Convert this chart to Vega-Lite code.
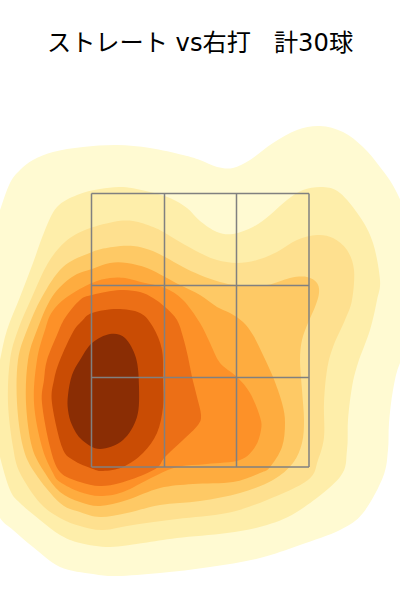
{"$schema":"https://vega.github.io/schema/vega-lite/v6.json","width":400,"height":600,"padding":0,"autosize":{"type":"fit","contains":"padding"},"background":"white","view":{"stroke":null},
"layer":[
{"data":{"values":[
{"level":1,"seq":0,"x":-2.2,"y":3.0},{"level":1,"seq":1,"x":-2.1,"y":3.6},{"level":1,"seq":2,"x":-2,"y":3.9},{"level":1,"seq":3,"x":-1.9,"y":4.17},{"level":1,"seq":4,"x":-1.8,"y":4.3},{"level":1,"seq":5,"x":-1.67,"y":4.4},{"level":1,"seq":6,"x":-1.47,"y":4.48},{"level":1,"seq":7,"x":-1.17,"y":4.53},{"level":1,"seq":8,"x":-0.83,"y":4.55},{"level":1,"seq":9,"x":-0.5,"y":4.52},{"level":1,"seq":10,"x":-0.17,"y":4.45},{"level":1,"seq":11,"x":0,"y":4.4},{"level":1,"seq":12,"x":0.17,"y":4.33},{"level":1,"seq":13,"x":0.33,"y":4.32},{"level":1,"seq":14,"x":0.5,"y":4.4},{"level":1,"seq":15,"x":0.73,"y":4.57},{"level":1,"seq":16,"x":0.97,"y":4.7},{"level":1,"seq":17,"x":1.2,"y":4.74},{"level":1,"seq":18,"x":1.43,"y":4.68},{"level":1,"seq":19,"x":1.63,"y":4.53},{"level":1,"seq":20,"x":1.8,"y":4.33},{"level":1,"seq":21,"x":1.97,"y":4.07},{"level":1,"seq":22,"x":2.2,"y":3.5},{"level":1,"seq":23,"x":2.25,"y":3.0},{"level":1,"seq":24,"x":2.15,"y":2.6},{"level":1,"seq":25,"x":2.0,"y":2.37},{"level":1,"seq":26,"x":1.93,"y":2.1},{"level":1,"seq":27,"x":1.89,"y":1.77},{"level":1,"seq":28,"x":1.88,"y":1.5},{"level":1,"seq":29,"x":1.83,"y":1.23},{"level":1,"seq":30,"x":1.63,"y":0.87},{"level":1,"seq":31,"x":1.4,"y":0.7},{"level":1,"seq":32,"x":1,"y":0.55},{"level":1,"seq":33,"x":0.6,"y":0.42},{"level":1,"seq":34,"x":0.1,"y":0.33},{"level":1,"seq":35,"x":-0.4,"y":0.27},{"level":1,"seq":36,"x":-0.83,"y":0.24},{"level":1,"seq":37,"x":-1.07,"y":0.26},{"level":1,"seq":38,"x":-1.4,"y":0.33},{"level":1,"seq":39,"x":-1.67,"y":0.53},{"level":1,"seq":40,"x":-1.87,"y":0.7},{"level":1,"seq":41,"x":-2,"y":0.82},{"level":1,"seq":42,"x":-2.15,"y":1.1},{"level":1,"seq":43,"x":-2.25,"y":2.0},
{"level":2,"seq":0,"x":-2.08,"y":1.8},{"level":2,"seq":1,"x":-2.05,"y":2.15},{"level":2,"seq":2,"x":-2,"y":2.4},{"level":2,"seq":3,"x":-1.93,"y":2.7},{"level":2,"seq":4,"x":-1.8,"y":3.03},{"level":2,"seq":5,"x":-1.67,"y":3.37},{"level":2,"seq":6,"x":-1.55,"y":3.7},{"level":2,"seq":7,"x":-1.43,"y":3.93},{"level":2,"seq":8,"x":-1.23,"y":4.05},{"level":2,"seq":9,"x":-1,"y":4.11},{"level":2,"seq":10,"x":-0.77,"y":4.13},{"level":2,"seq":11,"x":-0.5,"y":4.08},{"level":2,"seq":12,"x":-0.3,"y":4.02},{"level":2,"seq":13,"x":-0.13,"y":3.92},{"level":2,"seq":14,"x":0,"y":3.79},{"level":2,"seq":15,"x":0.17,"y":3.68},{"level":2,"seq":16,"x":0.33,"y":3.66},{"level":2,"seq":17,"x":0.53,"y":3.73},{"level":2,"seq":18,"x":0.7,"y":3.85},{"level":2,"seq":19,"x":0.87,"y":4.0},{"level":2,"seq":20,"x":1.03,"y":4.1},{"level":2,"seq":21,"x":1.23,"y":4.13},{"level":2,"seq":22,"x":1.4,"y":4.07},{"level":2,"seq":23,"x":1.6,"y":3.83},{"level":2,"seq":24,"x":1.73,"y":3.57},{"level":2,"seq":25,"x":1.8,"y":3.2},{"level":2,"seq":26,"x":1.77,"y":3.0},{"level":2,"seq":27,"x":1.7,"y":2.7},{"level":2,"seq":28,"x":1.58,"y":2.37},{"level":2,"seq":29,"x":1.52,"y":2.13},{"level":2,"seq":30,"x":1.48,"y":1.8},{"level":2,"seq":31,"x":1.47,"y":1.5},{"level":2,"seq":32,"x":1.4,"y":1.23},{"level":2,"seq":33,"x":1,"y":0.9},{"level":2,"seq":34,"x":0.67,"y":0.75},{"level":2,"seq":35,"x":0.27,"y":0.67},{"level":2,"seq":36,"x":-0.23,"y":0.62},{"level":2,"seq":37,"x":-0.57,"y":0.57},{"level":2,"seq":38,"x":-0.9,"y":0.53},{"level":2,"seq":39,"x":-1.2,"y":0.57},{"level":2,"seq":40,"x":-1.4,"y":0.65},{"level":2,"seq":41,"x":-1.6,"y":0.8},{"level":2,"seq":42,"x":-1.8,"y":0.97},{"level":2,"seq":43,"x":-1.9,"y":1.1},{"level":2,"seq":44,"x":-2,"y":1.43},
{"level":3,"seq":0,"x":-1.92,"y":1.97},{"level":3,"seq":1,"x":-1.9,"y":2.4},{"level":3,"seq":2,"x":-1.82,"y":2.7},{"level":3,"seq":3,"x":-1.68,"y":3.03},{"level":3,"seq":4,"x":-1.52,"y":3.37},{"level":3,"seq":5,"x":-1.35,"y":3.58},{"level":3,"seq":6,"x":-1.15,"y":3.7},{"level":3,"seq":7,"x":-0.87,"y":3.78},{"level":3,"seq":8,"x":-0.67,"y":3.79},{"level":3,"seq":9,"x":-0.47,"y":3.73},{"level":3,"seq":10,"x":-0.35,"y":3.67},{"level":3,"seq":11,"x":-0.2,"y":3.58},{"level":3,"seq":12,"x":0,"y":3.47},{"level":3,"seq":13,"x":0.17,"y":3.4},{"level":3,"seq":14,"x":0.37,"y":3.37},{"level":3,"seq":15,"x":0.57,"y":3.4},{"level":3,"seq":16,"x":0.77,"y":3.48},{"level":3,"seq":17,"x":0.97,"y":3.6},{"level":3,"seq":18,"x":1.17,"y":3.65},{"level":3,"seq":19,"x":1.33,"y":3.62},{"level":3,"seq":20,"x":1.47,"y":3.5},{"level":3,"seq":21,"x":1.54,"y":3.3},{"level":3,"seq":22,"x":1.52,"y":3.0},{"level":3,"seq":23,"x":1.45,"y":2.8},{"level":3,"seq":24,"x":1.33,"y":2.53},{"level":3,"seq":25,"x":1.27,"y":2.3},{"level":3,"seq":26,"x":1.24,"y":1.97},{"level":3,"seq":27,"x":1.24,"y":1.63},{"level":3,"seq":28,"x":1.18,"y":1.4},{"level":3,"seq":29,"x":1.08,"y":1.2},{"level":3,"seq":30,"x":0.67,"y":1.0},{"level":3,"seq":31,"x":0.27,"y":0.87},{"level":3,"seq":32,"x":-0.23,"y":0.81},{"level":3,"seq":33,"x":-0.67,"y":0.75},{"level":3,"seq":34,"x":-0.97,"y":0.7},{"level":3,"seq":35,"x":-1.2,"y":0.74},{"level":3,"seq":36,"x":-1.4,"y":0.82},{"level":3,"seq":37,"x":-1.6,"y":0.97},{"level":3,"seq":38,"x":-1.8,"y":1.27},{"level":3,"seq":39,"x":-1.87,"y":1.53},
{"level":4,"seq":0,"x":-1.83,"y":1.97},{"level":4,"seq":1,"x":-1.82,"y":2.4},{"level":4,"seq":2,"x":-1.73,"y":2.7},{"level":4,"seq":3,"x":-1.58,"y":3.03},{"level":4,"seq":4,"x":-1.37,"y":3.33},{"level":4,"seq":5,"x":-1.08,"y":3.48},{"level":4,"seq":6,"x":-0.87,"y":3.53},{"level":4,"seq":7,"x":-0.67,"y":3.54},{"level":4,"seq":8,"x":-0.5,"y":3.5},{"level":4,"seq":9,"x":-0.35,"y":3.43},{"level":4,"seq":10,"x":-0.17,"y":3.33},{"level":4,"seq":11,"x":0,"y":3.25},{"level":4,"seq":12,"x":0.2,"y":3.18},{"level":4,"seq":13,"x":0.37,"y":3.15},{"level":4,"seq":14,"x":0.67,"y":3.15},{"level":4,"seq":15,"x":0.9,"y":3.22},{"level":4,"seq":16,"x":1.07,"y":3.23},{"level":4,"seq":17,"x":1.17,"y":3.17},{"level":4,"seq":18,"x":1.19,"y":3.07},{"level":4,"seq":19,"x":1.15,"y":2.93},{"level":4,"seq":20,"x":1.08,"y":2.77},{"level":4,"seq":21,"x":1.02,"y":2.6},{"level":4,"seq":22,"x":1.0,"y":2.4},{"level":4,"seq":23,"x":1.02,"y":2.1},{"level":4,"seq":24,"x":1.04,"y":1.8},{"level":4,"seq":25,"x":1.02,"y":1.57},{"level":4,"seq":26,"x":0.93,"y":1.37},{"level":4,"seq":27,"x":0.73,"y":1.2},{"level":4,"seq":28,"x":0.4,"y":1.07},{"level":4,"seq":29,"x":0,"y":0.99},{"level":4,"seq":30,"x":-0.4,"y":0.95},{"level":4,"seq":31,"x":-0.73,"y":0.87},{"level":4,"seq":32,"x":-1,"y":0.83},{"level":4,"seq":33,"x":-1.2,"y":0.88},{"level":4,"seq":34,"x":-1.4,"y":0.97},{"level":4,"seq":35,"x":-1.65,"y":1.27},{"level":4,"seq":36,"x":-1.77,"y":1.53},
{"level":5,"seq":0,"x":-1.74,"y":1.97},{"level":5,"seq":1,"x":-1.72,"y":2.4},{"level":5,"seq":2,"x":-1.63,"y":2.7},{"level":5,"seq":3,"x":-1.48,"y":3.03},{"level":5,"seq":4,"x":-1.28,"y":3.23},{"level":5,"seq":5,"x":-1.08,"y":3.31},{"level":5,"seq":6,"x":-0.9,"y":3.37},{"level":5,"seq":7,"x":-0.73,"y":3.37},{"level":5,"seq":8,"x":-0.53,"y":3.32},{"level":5,"seq":9,"x":-0.35,"y":3.23},{"level":5,"seq":10,"x":-0.2,"y":3.15},{"level":5,"seq":11,"x":0,"y":3.05},{"level":5,"seq":12,"x":0.17,"y":2.93},{"level":5,"seq":13,"x":0.3,"y":2.87},{"level":5,"seq":14,"x":0.43,"y":2.78},{"level":5,"seq":15,"x":0.53,"y":2.65},{"level":5,"seq":16,"x":0.63,"y":2.45},{"level":5,"seq":17,"x":0.73,"y":2.23},{"level":5,"seq":18,"x":0.82,"y":1.97},{"level":5,"seq":19,"x":0.85,"y":1.77},{"level":5,"seq":20,"x":0.82,"y":1.53},{"level":5,"seq":21,"x":0.7,"y":1.33},{"level":5,"seq":22,"x":0.6,"y":1.27},{"level":5,"seq":23,"x":0.33,"y":1.18},{"level":5,"seq":24,"x":-0.07,"y":1.16},{"level":5,"seq":25,"x":-0.4,"y":1.12},{"level":5,"seq":26,"x":-0.73,"y":1.0},{"level":5,"seq":27,"x":-1,"y":0.94},{"level":5,"seq":28,"x":-1.2,"y":0.98},{"level":5,"seq":29,"x":-1.4,"y":1.08},{"level":5,"seq":30,"x":-1.55,"y":1.27},{"level":5,"seq":31,"x":-1.68,"y":1.53},
{"level":6,"seq":0,"x":-1.66,"y":1.97},{"level":6,"seq":1,"x":-1.63,"y":2.4},{"level":6,"seq":2,"x":-1.55,"y":2.7},{"level":6,"seq":3,"x":-1.48,"y":2.88},{"level":6,"seq":4,"x":-1.33,"y":3.03},{"level":6,"seq":5,"x":-1.08,"y":3.17},{"level":6,"seq":6,"x":-0.9,"y":3.22},{"level":6,"seq":7,"x":-0.75,"y":3.22},{"level":6,"seq":8,"x":-0.55,"y":3.17},{"level":6,"seq":9,"x":-0.35,"y":3.12},{"level":6,"seq":10,"x":-0.17,"y":3.0},{"level":6,"seq":11,"x":0,"y":2.77},{"level":6,"seq":12,"x":0.1,"y":2.57},{"level":6,"seq":13,"x":0.2,"y":2.37},{"level":6,"seq":14,"x":0.37,"y":2.23},{"level":6,"seq":15,"x":0.5,"y":2.07},{"level":6,"seq":16,"x":0.6,"y":1.83},{"level":6,"seq":17,"x":0.61,"y":1.7},{"level":6,"seq":18,"x":0.55,"y":1.53},{"level":6,"seq":19,"x":0.4,"y":1.4},{"level":6,"seq":20,"x":0.07,"y":1.36},{"level":6,"seq":21,"x":-0.23,"y":1.33},{"level":6,"seq":22,"x":-0.47,"y":1.23},{"level":6,"seq":23,"x":-0.77,"y":1.08},{"level":6,"seq":24,"x":-1,"y":1.04},{"level":6,"seq":25,"x":-1.2,"y":1.08},{"level":6,"seq":26,"x":-1.4,"y":1.18},{"level":6,"seq":27,"x":-1.47,"y":1.27},{"level":6,"seq":28,"x":-1.58,"y":1.53},
{"level":7,"seq":0,"x":-1.56,"y":2.2},{"level":7,"seq":1,"x":-1.53,"y":2.4},{"level":7,"seq":2,"x":-1.43,"y":2.65},{"level":7,"seq":3,"x":-1.35,"y":2.82},{"level":7,"seq":4,"x":-1.2,"y":3.0},{"level":7,"seq":5,"x":-1.08,"y":3.05},{"level":7,"seq":6,"x":-0.8,"y":3.1},{"level":7,"seq":7,"x":-0.6,"y":3.08},{"level":7,"seq":8,"x":-0.47,"y":3.02},{"level":7,"seq":9,"x":-0.35,"y":2.93},{"level":7,"seq":10,"x":-0.23,"y":2.8},{"level":7,"seq":11,"x":-0.17,"y":2.63},{"level":7,"seq":12,"x":-0.12,"y":2.43},{"level":7,"seq":13,"x":-0.08,"y":2.23},{"level":7,"seq":14,"x":-0.03,"y":2.03},{"level":7,"seq":15,"x":0.01,"y":1.85},{"level":7,"seq":16,"x":-0.02,"y":1.75},{"level":7,"seq":17,"x":-0.17,"y":1.6},{"level":7,"seq":18,"x":-0.35,"y":1.43},{"level":7,"seq":19,"x":-0.42,"y":1.33},{"level":7,"seq":20,"x":-0.57,"y":1.25},{"level":7,"seq":21,"x":-0.8,"y":1.17},{"level":7,"seq":22,"x":-1,"y":1.14},{"level":7,"seq":23,"x":-1.2,"y":1.18},{"level":7,"seq":24,"x":-1.4,"y":1.28},{"level":7,"seq":25,"x":-1.5,"y":1.53},{"level":7,"seq":26,"x":-1.58,"y":1.97},
{"level":8,"seq":0,"x":-1.4,"y":2.4},{"level":8,"seq":1,"x":-1.27,"y":2.68},{"level":8,"seq":2,"x":-1.18,"y":2.79},{"level":8,"seq":3,"x":-1.08,"y":2.87},{"level":8,"seq":4,"x":-0.83,"y":2.91},{"level":8,"seq":5,"x":-0.6,"y":2.87},{"level":8,"seq":6,"x":-0.47,"y":2.73},{"level":8,"seq":7,"x":-0.38,"y":2.5},{"level":8,"seq":8,"x":-0.37,"y":2.2},{"level":8,"seq":9,"x":-0.37,"y":1.93},{"level":8,"seq":10,"x":-0.43,"y":1.67},{"level":8,"seq":11,"x":-0.57,"y":1.47},{"level":8,"seq":12,"x":-0.77,"y":1.33},{"level":8,"seq":13,"x":-0.97,"y":1.29},{"level":8,"seq":14,"x":-1.07,"y":1.31},{"level":8,"seq":15,"x":-1.27,"y":1.4},{"level":8,"seq":16,"x":-1.38,"y":1.53},{"level":8,"seq":17,"x":-1.48,"y":1.97},{"level":8,"seq":18,"x":-1.46,"y":2.2},
{"level":9,"seq":0,"x":-1.32,"y":2.05},{"level":9,"seq":1,"x":-1.28,"y":2.25},{"level":9,"seq":2,"x":-1.2,"y":2.4},{"level":9,"seq":3,"x":-1.08,"y":2.57},{"level":9,"seq":4,"x":-0.9,"y":2.66},{"level":9,"seq":5,"x":-0.75,"y":2.62},{"level":9,"seq":6,"x":-0.64,"y":2.42},{"level":9,"seq":7,"x":-0.61,"y":2.13},{"level":9,"seq":8,"x":-0.63,"y":1.83},{"level":9,"seq":9,"x":-0.77,"y":1.6},{"level":9,"seq":10,"x":-1,"y":1.51},{"level":9,"seq":11,"x":-1.18,"y":1.6},{"level":9,"seq":12,"x":-1.28,"y":1.75},{"level":9,"seq":13,"x":-1.32,"y":1.9}
]},
"mark":{"type":"line","interpolate":"cardinal-closed","strokeWidth":0,"clip":true},
"encoding":{
"x":{"field":"x","type":"quantitative","axis":null,"scale":{"domain":[-2,2],"nice":false,"zero":false}},
"y":{"field":"y","type":"quantitative","axis":null,"scale":{"domain":[0,6],"nice":false,"zero":false}},
"order":{"field":"seq","type":"quantitative"},
"fill":{"field":"level","type":"ordinal","legend":null,"scale":{"domain":[1,2,3,4,5,6,7,8,9],"range":["#FFFAD2","#FEEEAA","#FEE08F","#FEC965","#FEAC3F","#FD9128","#EC6F16","#C94C04","#8A2D04"]}}
}},
{"data":{"values":[
{"x":-1.085,"x2":-1.085,"y":1.33,"y2":4.065},{"x":-0.355,"x2":-0.355,"y":1.33,"y2":4.065},{"x":0.365,"x2":0.365,"y":1.33,"y2":4.065},{"x":1.09,"x2":1.09,"y":1.33,"y2":4.065},
{"x":-1.085,"x2":1.09,"y":4.065,"y2":4.065},{"x":-1.085,"x2":1.09,"y":3.145,"y2":3.145},{"x":-1.085,"x2":1.09,"y":2.225,"y2":2.225},{"x":-1.085,"x2":1.09,"y":1.33,"y2":1.33}
]},
"mark":{"type":"rule","color":"#808080","strokeWidth":1.5},
"encoding":{"x":{"field":"x","type":"quantitative"},"x2":{"field":"x2"},"y":{"field":"y","type":"quantitative"},"y2":{"field":"y2"}}},
{"data":{"values":[{"x":0,"y":5.56,"label":"ストレート vs右打\u00a0\u00a0\u00a0計30球"}]},
"mark":{"type":"text","font":"DejaVu Sans, Noto Sans CJK JP","fontSize":24.2,"color":"#000000","align":"center","baseline":"middle"},
"encoding":{"x":{"field":"x","type":"quantitative"},"y":{"field":"y","type":"quantitative"},"text":{"field":"label"}}}
]}
